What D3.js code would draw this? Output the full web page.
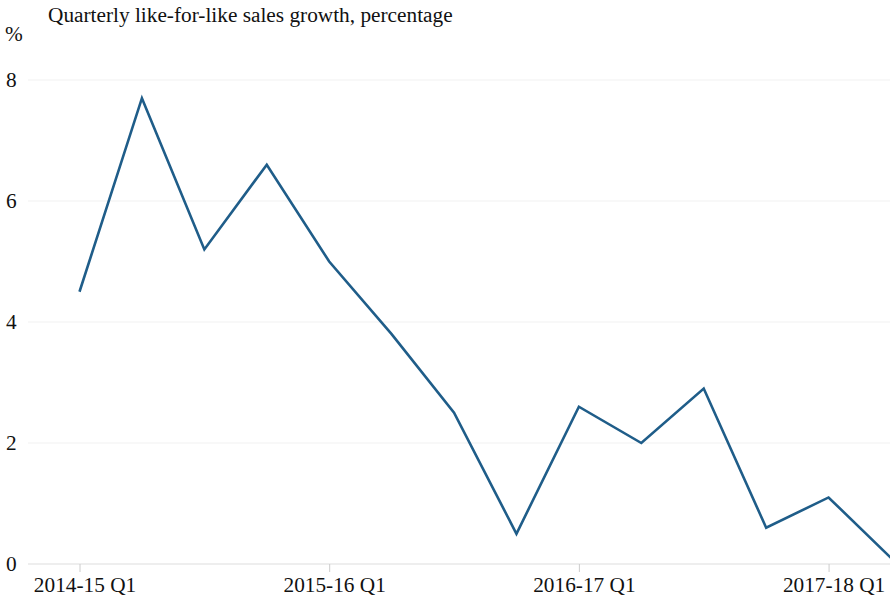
<!DOCTYPE html>
<html>
<head>
<meta charset="utf-8">
<script src="https://cdn.jsdelivr.net/npm/d3@7"></script>
<style>
  html, body { margin: 0; padding: 0; background: #fff; }
  svg { display: block; }
  text { font-family: "Liberation Serif", "Times New Roman", serif; fill: #111; }
</style>
</head>
<body>
<svg id="chart" width="890" height="601"></svg>
<script>
// Quarterly like-for-like sales growth (%)
const quarters = [
  "2014-15 Q1", "2014-15 Q2", "2014-15 Q3", "2014-15 Q4",
  "2015-16 Q1", "2015-16 Q2", "2015-16 Q3", "2015-16 Q4",
  "2016-17 Q1", "2016-17 Q2", "2016-17 Q3", "2016-17 Q4",
  "2017-18 Q1", "2017-18 Q2"
];
const growth = [4.5, 7.7, 5.2, 6.6, 5.0, 3.8, 2.5, 0.5, 2.6, 2.0, 2.9, 0.6, 1.1, 0.1];
const yTicks = [0, 2, 4, 6, 8];
const xTickLabels = ["2014-15 Q1", "2015-16 Q1", "2016-17 Q1", "2017-18 Q1"];

const fontSize = 21.3;
const svg = d3.select("#chart");

const x = d3.scalePoint().domain(quarters).range([79.5, 891]);
const y = d3.scaleLinear().domain([0, 8]).range([564, 80]);

// Title and unit
svg.append("text")
  .attr("x", 48).attr("y", 22)
  .attr("font-size", fontSize)
  .text("Quarterly like-for-like sales growth, percentage");

svg.append("text")
  .attr("x", 5).attr("y", 41)
  .attr("font-size", fontSize)
  .text("%");

// Horizontal gridlines
svg.append("g")
  .selectAll("line")
  .data(yTicks.filter(d => d !== 0))
  .join("line")
  .attr("x1", 28).attr("x2", 890)
  .attr("y1", d => y(d)).attr("y2", d => y(d))
  .attr("stroke", "#f1f1f1")
  .attr("stroke-width", 1);

// Y axis labels
svg.append("g")
  .selectAll("text")
  .data(yTicks)
  .join("text")
  .attr("x", 6)
  .attr("y", d => y(d))
  .attr("dy", "0.35em")
  .attr("font-size", fontSize)
  .text(d => d);

// X axis: baseline, tick marks and labels
const xAxis = d3.axisBottom(x)
  .tickValues(xTickLabels)
  .tickSize(8)
  .tickPadding(5)
  .tickSizeOuter(0);

const gx = svg.append("g")
  .attr("transform", `translate(0,${y(0)})`)
  .call(xAxis);

gx.select(".domain").remove();
gx.insert("line", ":first-child")
  .attr("x1", 28).attr("x2", 890)
  .attr("y1", 0).attr("y2", 0)
  .attr("stroke", "#dddddd");
gx.selectAll(".tick line").attr("stroke", "#cccccc");
gx.selectAll(".tick text")
  .attr("font-size", fontSize)
  .attr("fill", "#111")
  .attr("dx", 5);

// Growth line
const line = d3.line()
  .x((d, i) => x(quarters[i]))
  .y(d => y(d));

svg.append("path")
  .datum(growth)
  .attr("fill", "none")
  .attr("stroke", "#1f5d89")
  .attr("stroke-width", 2.6)
  .attr("stroke-linejoin", "miter")
  .attr("d", line);
</script>
</body>
</html>
